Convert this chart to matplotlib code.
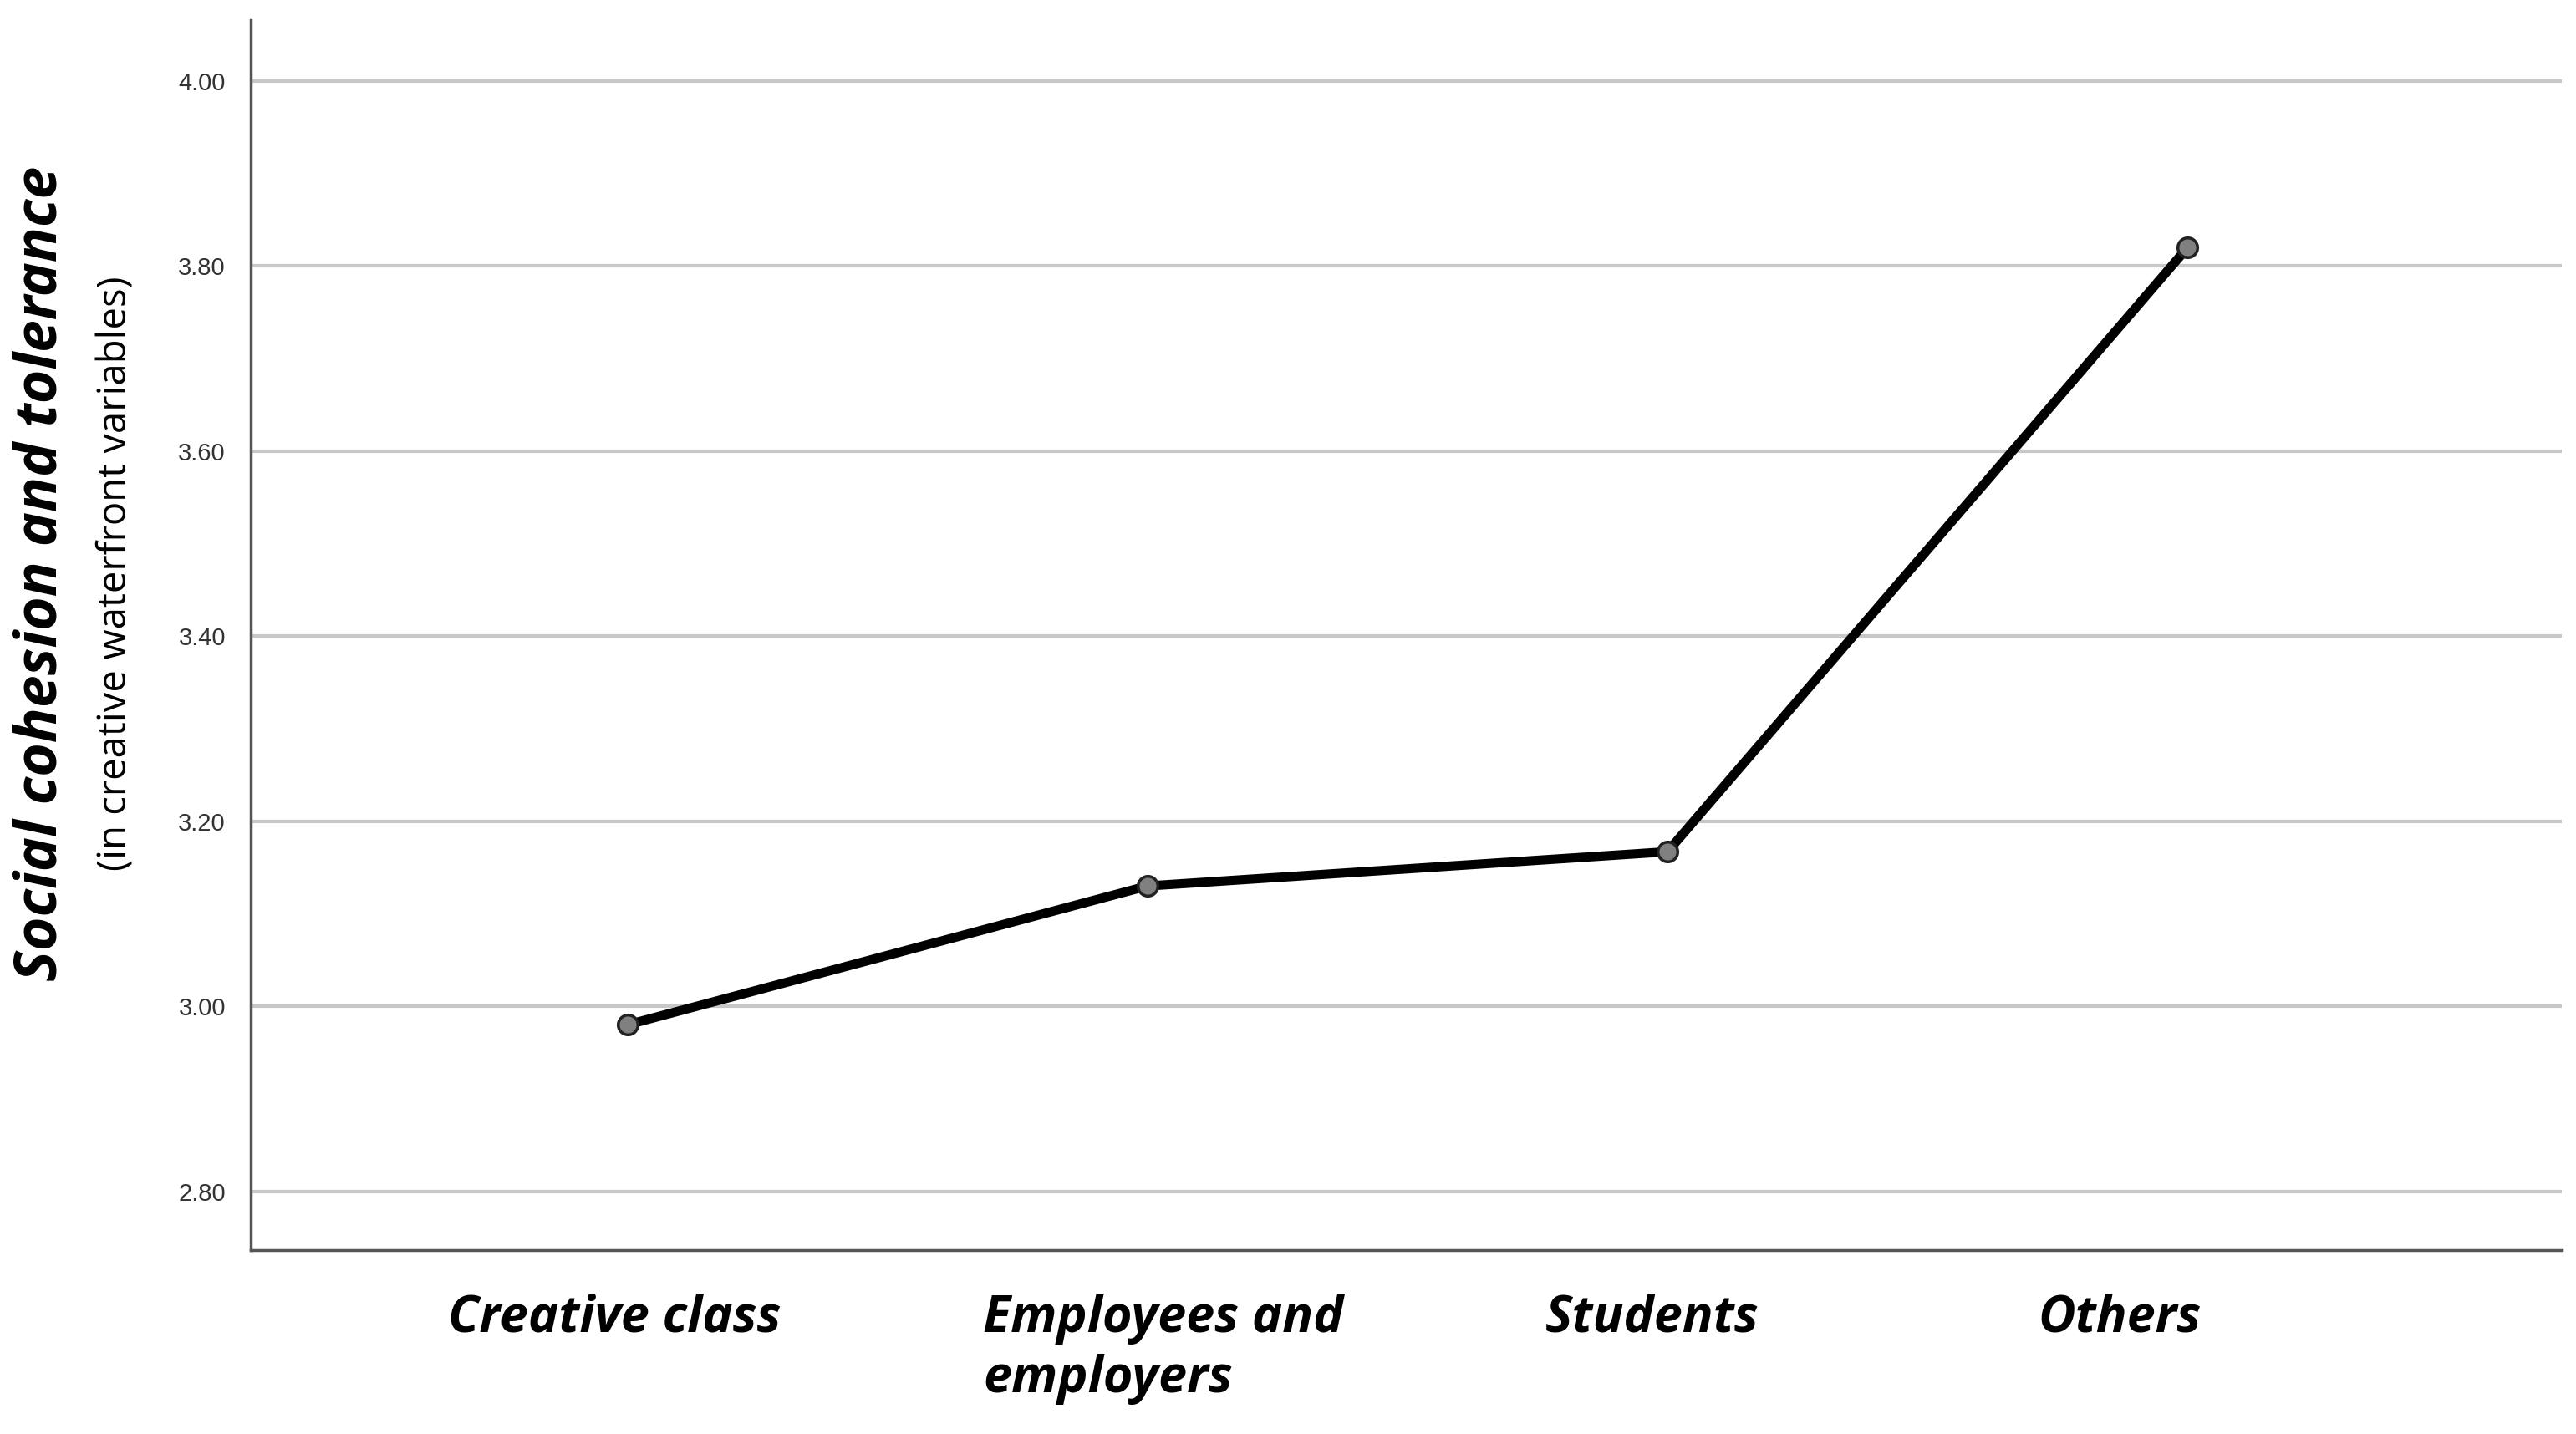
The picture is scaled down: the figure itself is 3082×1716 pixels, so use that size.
import matplotlib.pyplot as plt
from matplotlib.transforms import blended_transform_factory

categories = ["Creative class", "Employees and\nemployers", "Students", "Others"]
means = [2.98, 3.13, 3.167, 3.82]
yticks = [2.80, 3.00, 3.20, 3.40, 3.60, 3.80, 4.00]
# horizontal placement of the category labels (in category units, as drawn in the source)
label_pos = [-0.025, 1.03, 1.97, 2.87]

fig = plt.figure(figsize=(30.82, 17.16), dpi=100)
ax = fig.add_axes([0.0975, 0.128, 0.897, 0.858])

x = list(range(len(categories)))
ax.plot(x, means, color="black", lw=8, zorder=3)
ax.plot(x, means, "o", ms=17, mfc="#808080", mec="#222222", mew=2.5, zorder=4)

ax.set_xlim(-0.724, 3.72)
ax.set_ylim(2.736, 4.066)
ax.set_yticks(yticks)
ax.set_yticklabels([f"{v:.2f}" for v in yticks], fontsize=21, color="#333333",
                   family="Liberation Sans")
ax.yaxis.grid(True, color="#c8c8c8", lw=3)
ax.set_axisbelow(True)
ax.tick_params(axis="y", length=0, pad=22)
ax.set_xticks([])
for s in ["top", "right"]:
    ax.spines[s].set_visible(False)
for s in ["left", "bottom"]:
    ax.spines[s].set_color("#555555")
    ax.spines[s].set_linewidth(2.5)

trans = blended_transform_factory(ax.transData, ax.transAxes)
for pos, lab in zip(label_pos, categories):
    ax.text(pos, -0.035, lab, transform=trans, ha="center", va="top", multialignment="left",
            fontsize=44, fontweight="bold", fontstyle="italic", family="Open Sans",
            linespacing=1.25)

fig.text(0.016, 0.6, "Social cohesion and tolerance", rotation=90, ha="center", va="center",
         fontsize=50, fontweight="bold", fontstyle="italic", family="Open Sans")
fig.text(0.045, 0.6, "(in creative waterfront variables)", rotation=90, ha="center", va="center",
         fontsize=34, family="Open Sans")

fig.savefig("out.png", dpi=100)
